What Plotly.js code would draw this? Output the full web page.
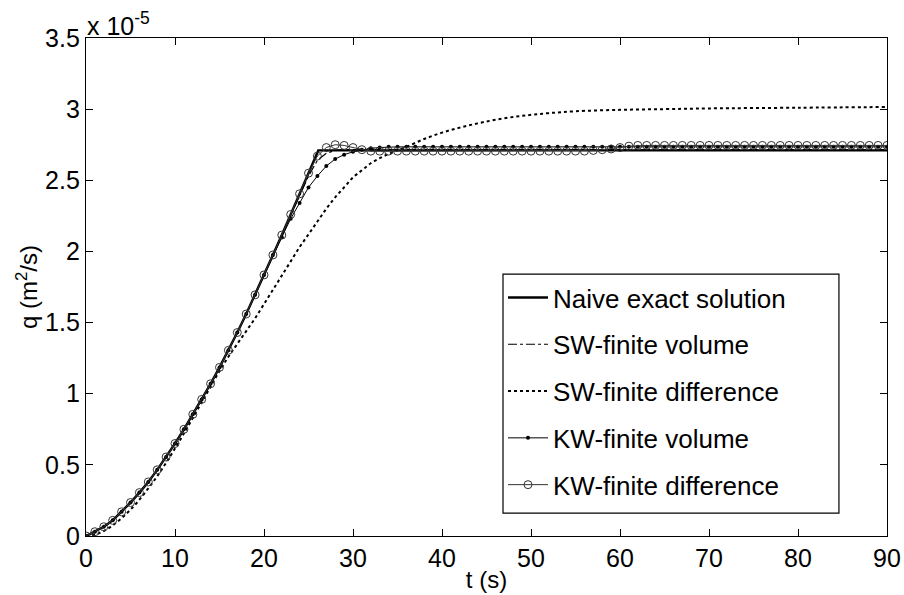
<!DOCTYPE html>
<html>
<head>
<meta charset="utf-8">
<script src="https://cdn.plot.ly/plotly-3.0.1.min.js"></script>
<style>html,body{margin:0;padding:0;background:#fff;}#chart{width:904px;height:595px;}</style>
</head>
<body>
<div id="chart"></div>
<script>
// Values of q are in units of 1e-5 m^2/s
const SCALE = 1e-5;

const naiveT = [0,1,2,3,4,5,6,7,8,9,10,11,12,13,14,15,16,17,18,19,20,21,22,23,24,25,26.1,90];
const naiveQ = [0,0.03,0.065,0.11,0.17,0.235,0.305,0.38,0.465,0.555,0.65,0.75,0.855,0.96,1.07,1.185,1.305,1.43,1.56,1.695,1.835,1.975,2.115,2.26,2.405,2.55,2.71,2.71];

const swfvT = [0,1,2,3,4,5,6,7,8,9,10,11,12,13,14,15,16,17,18,19,20,21,22,23,24,25,26,27,28,29,90];
const swfvQ = [0,0.03,0.065,0.11,0.17,0.235,0.305,0.38,0.465,0.555,0.65,0.75,0.855,0.96,1.07,1.185,1.305,1.43,1.56,1.695,1.835,1.975,2.115,2.255,2.395,2.53,2.64,2.69,2.71,2.715,2.715];

const swfdT = [0,1,2,3,4,5,6,7,8,9,10,11,12,13,14,15,16,17,18,19,20,21,22,23,24,25,26,27,28,29,30,31,32,33,34,35,36,38,40,42,44,46,48,50,52,55,60,65,70,80,90];
const swfdQ = [0,0.01,0.035,0.075,0.125,0.185,0.255,0.335,0.42,0.515,0.615,0.72,0.83,0.94,1.05,1.16,1.26,1.35,1.44,1.53,1.63,1.73,1.83,1.93,2.03,2.12,2.21,2.30,2.38,2.45,2.52,2.57,2.62,2.655,2.685,2.71,2.735,2.79,2.835,2.87,2.90,2.925,2.945,2.96,2.972,2.985,2.995,3.0,3.005,3.01,3.015];

const kwT = [0,1,2,3,4,5,6,7,8,9,10,11,12,13,14,15,16,17,18,19,20,21,22,23,24,25,26,27,28,29,30,31,32,33,34,35,36,37,38,39,40,41,42,43,44,45,46,47,48,49,50,51,52,53,54,55,56,57,58,59,60,61,62,63,64,65,66,67,68,69,70,71,72,73,74,75,76,77,78,79,80,81,82,83,84,85,86,87,88,89,90];

const kwfvQ = [0,0.03,0.065,0.11,0.17,0.235,0.305,0.38,0.465,0.555,0.65,0.75,0.855,0.96,1.07,1.185,1.305,1.43,1.56,1.695,1.835,1.975,2.10,2.23,2.34,2.45,2.53,2.60,2.65,2.68,2.70,2.715,2.725,2.73,2.735,2.735,2.735,2.735,2.735,2.735,2.735,2.735,2.735,2.735,2.735,2.735,2.735,2.735,2.735,2.735,2.735,2.735,2.735,2.735,2.735,2.735,2.735,2.735,2.735,2.735,2.735,2.735,2.735,2.735,2.735,2.735,2.735,2.735,2.735,2.735,2.735,2.735,2.735,2.735,2.735,2.735,2.735,2.735,2.735,2.735,2.735,2.735,2.735,2.735,2.735,2.735,2.735,2.735,2.735,2.735,2.735];

const kwfdQ = [0,0.03,0.065,0.11,0.17,0.235,0.305,0.38,0.465,0.555,0.65,0.75,0.855,0.96,1.07,1.185,1.305,1.43,1.56,1.695,1.835,1.975,2.115,2.26,2.405,2.55,2.67,2.73,2.75,2.745,2.73,2.715,2.705,2.705,2.705,2.705,2.705,2.705,2.705,2.705,2.705,2.705,2.705,2.705,2.705,2.705,2.705,2.705,2.705,2.705,2.705,2.705,2.705,2.705,2.705,2.705,2.705,2.71,2.715,2.72,2.73,2.74,2.745,2.745,2.745,2.745,2.745,2.745,2.745,2.745,2.745,2.745,2.745,2.745,2.745,2.745,2.745,2.745,2.745,2.745,2.745,2.745,2.745,2.745,2.745,2.745,2.745,2.745,2.745,2.745,2.745];

const xTicks = [0,10,20,30,40,50,60,70,80,90];
const yTickVals = [0,0.5,1,1.5,2,2.5,3,3.5];
const yTickText = ['0','0.5','1','1.5','2','2.5','3','3.5'];

const sc = a => a.map(v => v * SCALE);
const FONT = 'Liberation Sans, Arial, Helvetica, sans-serif';

const traces = [
  {x: naiveT, y: sc(naiveQ), name: 'Naive exact solution', mode: 'lines', legendgroup: 'a',
   line: {color: '#000', width: 2.4}},
  {x: swfvT, y: sc(swfvQ), name: 'SW-finite volume', mode: 'lines', legendgroup: 'b',
   line: {color: '#000', width: 1.2, dash: 'dashdot'}},
  {x: swfdT, y: sc(swfdQ), name: 'SW-finite difference', mode: 'lines', legendgroup: 'c',
   line: {color: '#000', width: 2, dash: 'dot', shape: 'spline'}},
  {x: kwT, y: sc(kwfvQ), name: 'KW-finite volume', mode: 'lines+markers', legendgroup: 'd',
   line: {color: '#000', width: 1}, marker: {symbol: 'circle', size: 4, color: '#000'}},
  {x: kwT, y: sc(kwfdQ), name: 'KW-finite difference', mode: 'lines+markers', legendgroup: 'e',
   line: {color: '#333', width: 1}, marker: {symbol: 'circle-open', size: 8, color: '#333', line: {width: 1, color: '#333'}}}
];

const layout = {
  width: 904, height: 595,
  margin: {l: 86, r: 17, t: 38, b: 59},
  paper_bgcolor: '#fff', plot_bgcolor: '#fff',
  font: {family: FONT, size: 25, color: '#000'},
  showlegend: true,
  legend: {x: 0.5206, y: 0.526, xanchor: 'left', yanchor: 'top',
    borderwidth: 0, bgcolor: 'rgba(0,0,0,0)',
    font: {family: FONT, size: 26, color: '#000'}, tracegroupgap: 10, itemwidth: 40},
  shapes: [
    {type: 'rect', xref: 'paper', yref: 'paper', x0: 0.5206, x1: 0.940, y0: 0.046, y1: 0.526,
     line: {color: '#000', width: 1.2}, fillcolor: '#fff', layer: 'above'}
  ],
  xaxis: {range: [0, 90], tickvals: xTicks, ticks: 'inside', ticklen: 7, tickcolor: '#000',
    showline: true, linecolor: '#000', linewidth: 1.2, mirror: 'ticks', showgrid: false, zeroline: false,
    tickfont: {family: FONT, size: 25, color: '#000'},
    title: {text: 't (s)', font: {family: FONT, size: 24, color: '#000'}, standoff: 0}},
  yaxis: {range: [0, 3.5e-5], tickvals: sc(yTickVals), ticktext: yTickText, ticks: 'inside', ticklen: 7, tickcolor: '#000',
    showline: true, linecolor: '#000', linewidth: 1.2, mirror: 'ticks', showgrid: false, zeroline: false,
    tickfont: {family: FONT, size: 25, color: '#000'},
    title: {text: 'q (m<sup>2</sup>/s)', font: {family: FONT, size: 24, color: '#000'}, standoff: 0}},
  annotations: [
    {xref: 'paper', yref: 'paper', x: 0, y: 1, xanchor: 'left', yanchor: 'bottom', showarrow: false,
     text: 'x 10<sup>-5</sup>', font: {family: FONT, size: 25, color: '#000'}, xshift: -1, yshift: -4}
  ]
};

Plotly.newPlot('chart', traces, layout, {displayModeBar: false, staticPlot: true});
</script>
</body>
</html>
